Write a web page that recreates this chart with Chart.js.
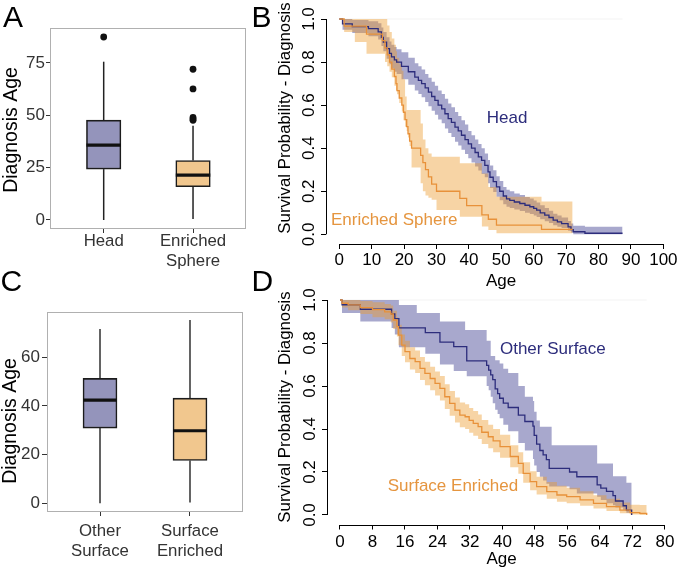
<!DOCTYPE html>
<html><head><meta charset="utf-8">
<script src="https://cdn.jsdelivr.net/npm/chart.js@4.4.1/dist/chart.umd.min.js"></script>
<style>
html,body{margin:0;padding:0;background:#fff;overflow:hidden;}
#wrap{position:relative;width:677px;height:570px;background:#fff;}
canvas{position:absolute;left:0;top:0;}
</style></head><body>
<div id="wrap">
<canvas id="cA" width="677" height="570"></canvas>
<canvas id="cB" width="677" height="570"></canvas>
<canvas id="cC" width="677" height="570"></canvas>
<canvas id="cD" width="677" height="570"></canvas>
</div>
<script>
// ---------------- Panel A: box plot ----------------
const catsA = [['Head'], ['Enriched', 'Sphere']];
const q1A = [24.3, 15.9];
const medA = [35.8, 21.4];
const q3A = [47.7, 28.4];
const lowA = [0, 0.5];
const highA = [75.6, 45.0];
const outGroupA = [0, 1, 1, 1, 1, 1];
const outValueA = [87.4, 72.0, 62.6, 49.0, 48.2, 47.6];
const yTicksA = [0, 25, 50, 75];

// ---------------- Panel C: box plot ----------------
const catsC = [['Other', 'Surface'], ['Surface', 'Enriched']];
const q1C = [30.9, 17.6];
const medC = [42.4, 29.8];
const q3C = [51.3, 43.2];
const lowC = [0, 0.3];
const highC = [71.6, 75.3];
const outGroupC = [];
const outValueC = [];
const yTicksC = [0, 20, 40, 60];

// ---------------- Panel B: survival ----------------
const headAge = [0, 1, 4, 9, 12, 13, 13.6, 14.6, 15.5, 16.1, 17, 17.7, 19.2, 21.3, 23.3, 24.4, 25.4, 26.5, 27.5, 28.5, 29.5, 30.5, 31.6, 32.6, 33.6, 34.6, 35.7, 36.7, 37.7, 38.8, 39.8, 40.8, 41.9, 42.9, 43.9, 44.9, 45.9, 46.5, 47.5, 48.5, 49.5, 50.6, 51.6, 52.6, 54, 55.7, 57.3, 58.8, 60, 60.9, 62, 63.4, 64.7, 66, 67.3, 68.6, 70.6, 71.5, 72.2, 75.8, 87.4];
const headS = [1.0, 0.977, 0.965, 0.955, 0.94, 0.915, 0.893, 0.862, 0.84, 0.824, 0.81, 0.80, 0.78, 0.755, 0.73, 0.715, 0.70, 0.68, 0.66, 0.64, 0.622, 0.60, 0.583, 0.56, 0.537, 0.52, 0.498, 0.48, 0.46, 0.44, 0.42, 0.40, 0.38, 0.36, 0.343, 0.32, 0.29, 0.265, 0.245, 0.22, 0.20, 0.178, 0.165, 0.158, 0.15, 0.143, 0.135, 0.128, 0.12, 0.112, 0.10, 0.089, 0.078, 0.066, 0.058, 0.05, 0.035, 0.022, 0.012, 0.005, 0.005];
const headLo = [1.0, 0.95, 0.935, 0.92, 0.905, 0.875, 0.85, 0.815, 0.79, 0.77, 0.755, 0.745, 0.72, 0.695, 0.668, 0.652, 0.636, 0.615, 0.595, 0.574, 0.555, 0.533, 0.516, 0.492, 0.47, 0.452, 0.43, 0.412, 0.393, 0.373, 0.353, 0.334, 0.315, 0.296, 0.28, 0.265, 0.237, 0.215, 0.197, 0.175, 0.158, 0.14, 0.128, 0.122, 0.115, 0.108, 0.10, 0.094, 0.087, 0.08, 0.07, 0.061, 0.052, 0.042, 0.035, 0.029, 0.017, 0.008, 0.0, 0.0, 0.0];
const headHi = [1.0, 1.0, 0.995, 0.99, 0.98, 0.96, 0.94, 0.915, 0.895, 0.88, 0.87, 0.86, 0.845, 0.82, 0.795, 0.78, 0.765, 0.745, 0.727, 0.708, 0.69, 0.668, 0.652, 0.63, 0.607, 0.59, 0.568, 0.55, 0.53, 0.51, 0.48, 0.46, 0.44, 0.42, 0.40, 0.375, 0.345, 0.32, 0.298, 0.27, 0.248, 0.22, 0.207, 0.2, 0.19, 0.182, 0.173, 0.166, 0.157, 0.148, 0.135, 0.122, 0.11, 0.096, 0.087, 0.078, 0.062, 0.05, 0.04, 0.035, 0.035];

const sphereAge = [0, 1.5, 4.8, 8.4, 13.3, 14.1, 14.8, 15.5, 16.2, 17.0, 17.5, 17.8, 18.5, 19.3, 19.8, 20.3, 20.8, 21.2, 21.7, 22.3, 25.1, 25.8, 26.6, 27.5, 28.5, 30.0, 37.2, 39.3, 44.0, 46.0, 48.5, 62.4, 72.0];
const sphereS = [1.0, 0.967, 0.967, 0.93, 0.90, 0.866, 0.833, 0.80, 0.767, 0.733, 0.70, 0.667, 0.633, 0.60, 0.567, 0.533, 0.50, 0.467, 0.433, 0.40, 0.367, 0.333, 0.30, 0.267, 0.233, 0.20, 0.167, 0.133, 0.09, 0.07, 0.043, 0.023, 0.023];
const sphereLo = [1.0, 0.94, 0.893, 0.839, 0.839, 0.80, 0.78, 0.755, 0.73, 0.69, 0.67, 0.65, 0.61, 0.57, 0.53, 0.50, 0.48, 0.45, 0.41, 0.31, 0.237, 0.20, 0.18, 0.17, 0.16, 0.113, 0.082, 0.082, 0.036, 0.02, 0.005, 0.005, 0.005];
const sphereHi = [1.0, 1.0, 1.0, 1.0, 1.0, 1.0, 0.97, 0.94, 0.91, 0.88, 0.85, 0.82, 0.79, 0.76, 0.72, 0.64, 0.577, 0.577, 0.577, 0.577, 0.515, 0.44, 0.40, 0.375, 0.36, 0.36, 0.33, 0.33, 0.283, 0.22, 0.175, 0.152, 0.152];

// ---------------- Panel D: survival ----------------
const otherAge = [0, 0.5, 5, 12.7, 13.5, 14.5, 18.9, 21, 24.6, 28, 30.8, 31.2, 36.1, 36.6, 37.1, 37.6, 38.2, 38.8, 39.3, 40.2, 41.4, 43.9, 45.5, 47.5, 47.8, 48.4, 49.2, 50, 50.8, 51.5, 52.1, 56.5, 58.3, 63.3, 64.2, 65.6, 67.2, 67.8, 69.7, 70.5, 71.8];
const otherS = [1.0, 0.978, 0.957, 0.935, 0.913, 0.87, 0.87, 0.848, 0.804, 0.783, 0.783, 0.717, 0.696, 0.674, 0.652, 0.63, 0.587, 0.565, 0.543, 0.52, 0.50, 0.465, 0.435, 0.413, 0.37, 0.33, 0.30, 0.28, 0.258, 0.217, 0.217, 0.20, 0.178, 0.14, 0.125, 0.11, 0.09, 0.065, 0.043, 0.022, 0.0];
const otherLo = [1.0, 0.94, 0.90, 0.87, 0.84, 0.78, 0.78, 0.75, 0.70, 0.67, 0.67, 0.645, 0.60, 0.58, 0.55, 0.52, 0.49, 0.47, 0.45, 0.42, 0.39, 0.335, 0.30, 0.26, 0.23, 0.20, 0.178, 0.16, 0.145, 0.132, 0.132, 0.12, 0.10, 0.085, 0.07, 0.055, 0.045, 0.035, 0.023, 0.01, 0.0];
const otherHi = [1.0, 1.0, 1.0, 1.0, 1.0, 0.977, 0.94, 0.94, 0.90, 0.90, 0.86, 0.86, 0.81, 0.81, 0.74, 0.74, 0.72, 0.72, 0.705, 0.68, 0.66, 0.60, 0.55, 0.53, 0.48, 0.44, 0.41, 0.41, 0.41, 0.41, 0.325, 0.325, 0.325, 0.24, 0.24, 0.24, 0.18, 0.18, 0.18, 0.15, 0.15];

const surfAge = [0, 0.5, 2, 5, 8, 11, 12.5, 13.1, 14, 14.4, 15.2, 16, 17.2, 18.5, 19.7, 20.9, 22.2, 23.4, 24.6, 25.8, 27, 28.3, 29.5, 30.8, 31.8, 32.8, 34, 34.9, 36.5, 37.7, 39.4, 41.9, 43.9, 45.1, 46.8, 48.4, 50.9, 53.4, 55.8, 59.1, 62.4, 65.6, 68.9, 71.4, 73.8, 75.5];
const surfS = [1.0, 0.985, 0.977, 0.965, 0.955, 0.945, 0.935, 0.907, 0.876, 0.837, 0.79, 0.76, 0.728, 0.713, 0.682, 0.659, 0.635, 0.612, 0.589, 0.55, 0.519, 0.488, 0.465, 0.457, 0.44, 0.426, 0.411, 0.385, 0.364, 0.345, 0.318, 0.272, 0.24, 0.194, 0.155, 0.132, 0.109, 0.093, 0.085, 0.07, 0.054, 0.039, 0.023, 0.011, 0.008, 0.0];
const surfLo = [1.0, 0.965, 0.952, 0.935, 0.92, 0.91, 0.895, 0.865, 0.83, 0.79, 0.74, 0.71, 0.677, 0.66, 0.628, 0.604, 0.58, 0.556, 0.532, 0.493, 0.462, 0.43, 0.408, 0.40, 0.383, 0.369, 0.354, 0.33, 0.31, 0.292, 0.266, 0.222, 0.192, 0.15, 0.115, 0.095, 0.075, 0.062, 0.055, 0.043, 0.03, 0.019, 0.008, 0.002, 0.0, 0.0];
const surfHi = [1.0, 1.0, 1.0, 0.995, 0.99, 0.982, 0.975, 0.95, 0.92, 0.885, 0.84, 0.81, 0.78, 0.765, 0.735, 0.713, 0.69, 0.668, 0.646, 0.608, 0.577, 0.546, 0.523, 0.515, 0.498, 0.484, 0.468, 0.442, 0.42, 0.40, 0.373, 0.325, 0.292, 0.245, 0.203, 0.178, 0.153, 0.136, 0.127, 0.11, 0.092, 0.075, 0.058, 0.048, 0.046, 0.046];

const xTicksB = [0, 10, 20, 30, 40, 50, 60, 70, 80, 90, 100];
const xTicksD = [0, 8, 16, 24, 32, 40, 48, 56, 64, 72, 80];
const yTicksSurv = [0, 0.2, 0.4, 0.6, 0.8, 1.0];

// ---------------- styling ----------------
const FONT = "'Liberation Sans', Arial, Helvetica, sans-serif";
Chart.defaults.font.family = FONT;
Chart.defaults.color = '#000';
const BOX_FILLS = ['#9494bb', '#f1c78e'];
const NAVY = '#2d2d7c';
const ORANGE = '#e8913a';
const BAND_BLUE = 'rgba(62,62,144,0.45)';
const BAND_ORANGE = 'rgba(236,152,40,0.42)';

function pts(xs, ys) { return xs.map((v, i) => ({x: v, y: ys[i]})); }
function rotText(ctx, text, cx, cy, font, color) {
  ctx.save();
  ctx.translate(cx, cy);
  ctx.rotate(-Math.PI / 2);
  ctx.font = font; ctx.fillStyle = color;
  ctx.textAlign = 'center'; ctx.textBaseline = 'middle';
  ctx.fillText(text, 0, 0);
  ctx.restore();
}
function letter(ctx, t, x, y) {
  ctx.save();
  ctx.font = '30px ' + FONT; ctx.fillStyle = '#000';
  ctx.textAlign = 'left'; ctx.textBaseline = 'alphabetic';
  ctx.fillText(t, x, y);
  ctx.restore();
}

function makeBox(id, o) {
  const ds = [{
    type: 'bar',
    data: o.cats.map((c, i) => ({x: i + 1, y: [o.q1[i], o.q3[i]]})),
    backgroundColor: BOX_FILLS, borderColor: '#1c1c1c', borderWidth: o.boxLine,
    borderSkipped: false, barThickness: o.boxW, order: 1
  }];
  o.cats.forEach((c, i) => {
    ds.push({type: 'line', data: pts([i + 1, i + 1], [o.low[i], o.q1[i]]), borderColor: '#222', borderWidth: o.whisk, pointRadius: 0, order: 2});
    ds.push({type: 'line', data: pts([i + 1, i + 1], [o.q3[i], o.high[i]]), borderColor: '#222', borderWidth: o.whisk, pointRadius: 0, order: 2});
  });
  ds.push({type: 'scatter', data: o.outG.map((g, k) => ({x: g + 1, y: o.outV[k]})), pointRadius: 3.4, pointBackgroundColor: '#111', pointBorderWidth: 0, order: 0});
  return new Chart(document.getElementById(id), {
    type: 'bar',
    data: {datasets: ds},
    options: {
      responsive: false, animation: false, events: [],
      layout: {padding: o.pad},
      plugins: {legend: {display: false}, tooltip: {enabled: false}},
      scales: {
        x: {
          type: 'linear', min: o.xMin, max: o.xMax, offset: false, bounds: 'data',
          afterBuildTicks: s => { s.ticks = o.cats.map((c, i) => ({value: i + 1})); },
          afterFit: s => { s.height = o.xH; s.paddingLeft = 0; s.paddingRight = 0; },
          grid: {display: true, offset: false, drawOnChartArea: false, drawTicks: true, tickLength: 4, color: '#333', lineWidth: 1},
          border: {display: false},
          ticks: {autoSkip: false, maxRotation: 0, minRotation: 0, padding: o.xPad, color: '#333',
                  font: {size: 16.8, lineHeight: '20px'}, callback: (v, i) => o.cats[i]}
        },
        y: {
          type: 'linear', min: o.yMin, max: o.yMax, bounds: 'data', beginAtZero: false,
          afterBuildTicks: s => { s.ticks = o.yTicks.map(v => ({value: v})); },
          afterFit: s => { s.width = o.yW; s.paddingTop = 0; s.paddingBottom = 0; },
          grid: {display: true, drawOnChartArea: false, drawTicks: true, tickLength: o.yTL, color: '#333', lineWidth: 1},
          border: {display: false},
          ticks: {padding: o.yPad, color: '#333', font: {size: 17}}
        }
      }
    },
    plugins: [{
      id: 'boxExtras',
      afterDatasetsDraw(chart) {
        const ctx = chart.ctx, ys = chart.scales.y;
        const meta = chart.getDatasetMeta(0);
        ctx.save();
        ctx.strokeStyle = '#111'; ctx.lineWidth = o.medLine;
        meta.data.forEach((el, i) => {
          const py = ys.getPixelForValue(o.med[i]);
          ctx.beginPath();
          ctx.moveTo(el.x - el.width / 2, py);
          ctx.lineTo(el.x + el.width / 2, py);
          ctx.stroke();
        });
        ctx.restore();
      },
      afterDraw(chart) {
        const ctx = chart.ctx, a = chart.chartArea;
        ctx.save();
        ctx.strokeStyle = '#b0b0b0'; ctx.lineWidth = 1;
        ctx.strokeRect(a.left + 0.5, a.top + 0.5, a.right - a.left - 1, a.bottom - a.top - 1);
        ctx.restore();
        rotText(ctx, 'Diagnosis Age', o.titleX, o.titleY, '19.5px ' + FONT, '#000');
        letter(ctx, o.letter, o.letterX, o.letterY);
      }
    }]
  });
}

function makeSurv(id, o) {
  const ds = [];
  o.curves.forEach(c => ds.push({data: pts(c.age, c.s), borderColor: c.line, borderWidth: 1.3, stepped: true, pointRadius: 0, fill: false}));
  o.curves.forEach(c => {
    ds.push({data: pts(c.age, c.hi), borderColor: 'transparent', borderWidth: 0, stepped: true, pointRadius: 0, fill: false});
    ds.push({data: pts(c.age, c.lo), borderColor: 'transparent', borderWidth: 0, stepped: true, pointRadius: 0, fill: '-1', backgroundColor: c.band});
  });
  const refX = [0, Math.max(...o.curves.map(c => c.age[c.age.length - 1]))];
  ds.push({data: pts(refX, [1, 1]), borderColor: 'rgba(0,0,0,0.05)', borderWidth: 1, pointRadius: 0, fill: false});
  return new Chart(document.getElementById(id), {
    type: 'line',
    data: {datasets: ds},
    options: {
      responsive: false, animation: false, events: [],
      layout: {padding: o.pad},
      plugins: {legend: {display: false}, tooltip: {enabled: false}},
      elements: {line: {tension: 0}},
      scales: {
        x: {
          type: 'linear', min: o.xMin, max: o.xMax, bounds: 'data',
          afterBuildTicks: s => { s.ticks = o.xTicks.map(v => ({value: v})); },
          afterFit: s => { s.height = o.xH; s.paddingLeft = 0; s.paddingRight = 0; },
          grid: {display: true, drawOnChartArea: false, drawTicks: true, tickLength: 5, color: '#000', lineWidth: 1},
          border: {display: false},
          ticks: {autoSkip: false, maxRotation: 0, minRotation: 0, padding: o.xPad, color: '#000', font: {size: 17}},
          title: {display: true, text: 'Age', color: '#000', font: {size: 17}, padding: 0}
        },
        y: {
          type: 'linear', min: o.yMin, max: o.yMax, bounds: 'data',
          afterBuildTicks: s => { s.ticks = o.yTicks.map(v => ({value: v})); },
          afterFit: s => { s.width = o.yW; s.paddingTop = 0; s.paddingBottom = 0; },
          grid: {display: true, drawOnChartArea: false, drawTicks: true, tickLength: 5, color: '#000', lineWidth: 1},
          border: {display: false},
          ticks: {display: false}
        }
      }
    },
    plugins: [{
      id: 'survExtras',
      afterDraw(chart) {
        const ctx = chart.ctx, a = chart.chartArea, xs = chart.scales.x, ys = chart.scales.y;
        ctx.save();
        ctx.strokeStyle = '#000'; ctx.lineWidth = 1;
        const ax = Math.round(a.left) + 0.5;
        ctx.beginPath();
        ctx.moveTo(ax, ys.getPixelForValue(o.yTicks[0]));
        ctx.lineTo(ax, ys.getPixelForValue(o.yTicks[o.yTicks.length - 1]));
        ctx.stroke();
        const ay = Math.round(a.bottom) + 0.5;
        ctx.beginPath();
        ctx.moveTo(xs.getPixelForValue(o.xTicks[0]), ay);
        ctx.lineTo(xs.getPixelForValue(o.xTicks[o.xTicks.length - 1]), ay);
        ctx.stroke();
        ctx.restore();
        o.yTicks.forEach(v => rotText(ctx, v.toFixed(1), a.left - 17, ys.getPixelForValue(v), '17px ' + FONT, '#000'));
        rotText(ctx, 'Survival Probability - Diagnosis', o.titleX, o.titleY, '16.8px ' + FONT, '#000');
        ctx.save();
        ctx.font = '17px ' + FONT; ctx.textAlign = 'center'; ctx.textBaseline = 'middle';
        o.notes.forEach(n => {
          ctx.fillStyle = n.color;
          ctx.fillText(n.text, xs.getPixelForValue(n.x), ys.getPixelForValue(n.y));
        });
        ctx.restore();
        letter(ctx, o.letter, o.letterX, o.letterY);
      }
    }]
  });
}

makeBox('cA', {
  cats: catsA, q1: q1A, med: medA, q3: q3A, low: lowA, high: highA, outG: outGroupA, outV: outValueA, yTicks: yTicksA,
  xMin: 0.399, xMax: 2.593, yMin: -4.3, yMax: 91.7,
  pad: {left: 0, top: 28, right: 431, bottom: 291}, xH: 50, yW: 50,
  xPad: -2, yTL: 4, yPad: 1, boxW: 34.5, boxLine: 1.6, whisk: 1.5, medLine: 3.2,
  titleX: 11.7, titleY: 130, letter: 'A', letterX: 3, letterY: 26.7
});
makeBox('cC', {
  cats: catsC, q1: q1C, med: medC, q3: q3C, low: lowC, high: highC, outG: outGroupC, outV: outValueC, yTicks: yTicksC,
  xMin: 0.411, xMax: 2.589, yMin: -3.57, yMax: 78.56,
  pad: {left: 0, top: 312, right: 434, bottom: 8}, xH: 50, yW: 47,
  xPad: 5.6, yTL: 5, yPad: 2, boxW: 34, boxLine: 1.6, whisk: 1.4, medLine: 3.2,
  titleX: 10.5, titleY: 421, letter: 'C', letterX: 0.5, letterY: 291.3
});
makeSurv('cB', {
  curves: [
    {age: sphereAge, s: sphereS, lo: sphereLo, hi: sphereHi, line: ORANGE, band: BAND_ORANGE},
    {age: headAge, s: headS, lo: headLo, hi: headHi, line: NAVY, band: BAND_BLUE}
  ],
  xTicks: xTicksB, yTicks: yTicksSurv,
  xMin: -4.1, xMax: 103.9, yMin: -0.045, yMax: 1.0418,
  pad: {left: 0, top: 10, right: 1, bottom: 278.8}, xH: 47.2, yW: 326, xPad: 1,
  titleX: 285, titleY: 118,
  notes: [
    {text: 'Head', x: 51.8, y: 0.539, color: NAVY},
    {text: 'Enriched Sphere', x: 16.96, y: 0.066, color: '#e5953f'}
  ],
  letter: 'B', letterX: 251.5, letterY: 26.7
});
makeSurv('cD', {
  curves: [
    {age: surfAge, s: surfS, lo: surfLo, hi: surfHi, line: ORANGE, band: BAND_ORANGE},
    {age: otherAge, s: otherS, lo: otherLo, hi: otherHi, line: NAVY, band: BAND_BLUE}
  ],
  xTicks: xTicksD, yTicks: yTicksSurv,
  xMin: -3.2, xMax: 82.71, yMin: -0.0442, yMax: 1.0419,
  pad: {left: 0, top: 291, right: 1, bottom: 0}, xH: 45.5, yW: 327, xPad: 3,
  titleX: 285, titleY: 407,
  notes: [
    {text: 'Other Surface', x: 52.4, y: 0.769, color: NAVY},
    {text: 'Surface Enriched', x: 27.8, y: 0.132, color: '#e5953f'}
  ],
  letter: 'D', letterX: 251.5, letterY: 291.3
});
</script>
</body></html>
